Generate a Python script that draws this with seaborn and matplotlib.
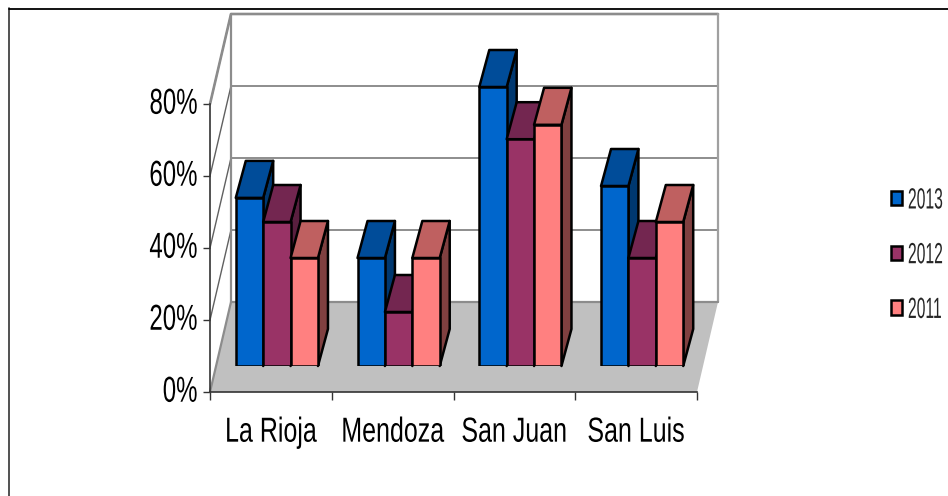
import matplotlib
matplotlib.use("Agg")
import matplotlib.pyplot as plt
from matplotlib.lines import Line2D
from matplotlib.patches import Polygon
from matplotlib.patheffects import AbstractPathEffect
from matplotlib.transforms import Affine2D
import pandas as pd
import seaborn as sns

provinces = ["La Rioja", "Mendoza", "San Juan", "San Luis"]
values_2013 = [46.7, 30, 77.5, 50]
values_2012 = [40, 15, 63, 30]
values_2011 = [30, 30, 67, 40]
years = ["2013", "2012", "2011"]
front_colors = ["#0066CC", "#993366", "#FF8080"]
top_colors = ["#004C99", "#732650", "#BF6060"]
side_colors = ["#003870", "#5A1F3F", "#804040"]
y_ticks = [0, 20, 40, 60, 80]

W, H = 948, 496
sns.set_theme(style="white")
plt.rcParams["font.family"] = ["Liberation Sans", "DejaVu Sans"]

fig = plt.figure(figsize=(W / 100, H / 100), dpi=100, facecolor="white")


class VerticalStretch(AbstractPathEffect):
    """Draws text outlines taller about the text's anchor, with an optional pixel shift."""

    def __init__(self, text, factor, shift=0):
        super().__init__()
        self.text = text
        self.factor = factor
        self.shift = shift

    def draw_path(self, renderer, gc, tpath, affine, rgbFace=None):
        y = self.text._get_xy_display()[1]
        stretch = Affine2D().translate(0, -y).scale(1, self.factor).translate(0, y + self.shift)
        renderer.draw_path(gc, tpath, affine + stretch, rgbFace)


def stretch_text(text, factor, shift=0):
    text.set_path_effects([VerticalStretch(text, factor, shift)])


def box(left, top, right, bottom):
    return [left / W, 1 - bottom / H, (right - left) / W, (bottom - top) / H]


table = pd.DataFrame({
    "province": provinces * 3,
    "year": [y for y in years for _ in provinces],
    "share": values_2013 + values_2012 + values_2011,
})

# Outer chart frame, open on the right and bottom
fig.add_artist(Line2D([9 / W, 9 / W], [0, 1 - 8 / H], color="#333333", lw=1.2))
fig.add_artist(Line2D([9 / W, 1], [1 - 8.5 / H, 1 - 8.5 / H], color="black", lw=1.3))

# Front plane of the chart: carries the axes, ticks and walls
ax = fig.add_axes(box(210, 104, 697, 392))
ax.patch.set_visible(False)
ax.set_xlim(-0.5, 3.5)
ax.set_ylim(0, 80)
ax.set_xticks([-0.5, 0.5, 1.5, 2.5, 3.5])
ax.set_xticklabels([])
ax.set_yticks(y_ticks)
ax.set_yticklabels([f"{t}%" for t in y_ticks], fontsize=17.3, color="black")
ax.tick_params(axis="both", length=5, width=1, color="#333333", left=True, bottom=True, pad=4)
ax.tick_params(axis="x", length=6)
for label in ax.get_yticklabels():
    stretch_text(label, 1.5, shift=3)
for pos in ["top", "right"]:
    ax.spines[pos].set_visible(False)
for pos in ["left", "bottom"]:
    ax.spines[pos].set_color("#333333")
    ax.spines[pos].set_linewidth(1.2)
    ax.spines[pos].set_zorder(6)

for i, name in enumerate(provinces):
    label = ax.text(i, -13.8, name, ha="center", va="baseline", fontsize=18, color="black", clip_on=False)
    stretch_text(label, 1.39)

# Depth of the box in data units
wall_dx = 21 / (487 / 4)
wall_dy = 90 / (288 / 80)
x0, x1 = -0.5, 3.5
ax.add_patch(Polygon(
    [(x0, 0), (x1, 0), (x1 + wall_dx, wall_dy), (x0 + wall_dx, wall_dy)],
    closed=True, facecolor="#C0C0C0", edgecolor="none", clip_on=False, zorder=1,
))
for t in y_ticks[1:]:
    ax.plot([x0, x0 + wall_dx, x1 + wall_dx], [t, t + wall_dy, t + wall_dy],
            color="#606060", lw=1.0, clip_on=False, zorder=2)
wall_line = dict(color="#8C8C8C", clip_on=False, zorder=2)
ax.plot([x0, x0 + wall_dx, x1 + wall_dx], [80, 80 + wall_dy, 80 + wall_dy], lw=1.9, **wall_line)
ax.plot([x0 + wall_dx, x0 + wall_dx], [wall_dy, 80 + wall_dy], lw=1.6, **wall_line)
ax.plot([x1 + wall_dx, x1 + wall_dx], [wall_dy, 80 + wall_dy], lw=1.6, color="#A0A0A0", clip_on=False, zorder=2)
ax.plot([x0, x0 + wall_dx, x1 + wall_dx], [0, wall_dy, wall_dy], lw=1.6, **wall_line)

# Bars stand on the floor, set back from the front plane
bar_ax = fig.add_axes(box(216, 78, 703, 366))
bar_ax.patch.set_visible(False)
sns.barplot(
    data=table, x="province", y="share", hue="year", hue_order=years,
    palette=front_colors, width=0.675, gap=0, saturation=1,
    edgecolor="black", linewidth=1.8, ax=bar_ax,
)
bar_ax.set_xlim(-0.5, 3.5)
bar_ax.set_ylim(0, 80)
bar_ax.set_axis_off()

sns.move_legend(
    bar_ax, "upper left", bbox_to_anchor=((891 - 216) / 487, (366 - 191) / 288),
    frameon=False, title=None, fontsize=11.3, handlelength=0.7, handleheight=1.02,
    handletextpad=0.38, labelspacing=2.5, borderpad=0, borderaxespad=0,
)
for label in bar_ax.get_legend().get_texts():
    stretch_text(label, 1.86, shift=-5)
for handle in bar_ax.get_legend().get_patches():
    handle.set_linewidth(1.8)

# Extrude each bar: side and top faces follow the front rectangle
bar_dx = 10 / (487 / 4)
bar_dy = 37 / (288 / 80)
bars = [p for container in bar_ax.containers for p in container]
tints = {id(p): k for k, container in enumerate(bar_ax.containers) for p in container}
for order, bar in enumerate(sorted(bars, key=lambda p: p.get_x())):
    k = tints[id(bar)]
    left, right = bar.get_x(), bar.get_x() + bar.get_width()
    h = bar.get_height()
    bar.set_zorder(3 + order * 0.01 + 0.005)
    edge = dict(edgecolor="black", linewidth=1.8, joinstyle="round", clip_on=False, zorder=3 + order * 0.01)
    bar_ax.add_patch(Polygon(
        [(right, 0), (right + bar_dx, bar_dy), (right + bar_dx, h + bar_dy), (right, h)],
        closed=True, facecolor=side_colors[k], **edge,
    ))
    bar_ax.add_patch(Polygon(
        [(left, h), (left + bar_dx, h + bar_dy), (right + bar_dx, h + bar_dy), (right, h)],
        closed=True, facecolor=top_colors[k], **edge,
    ))

fig.savefig("out.png", dpi=100)
